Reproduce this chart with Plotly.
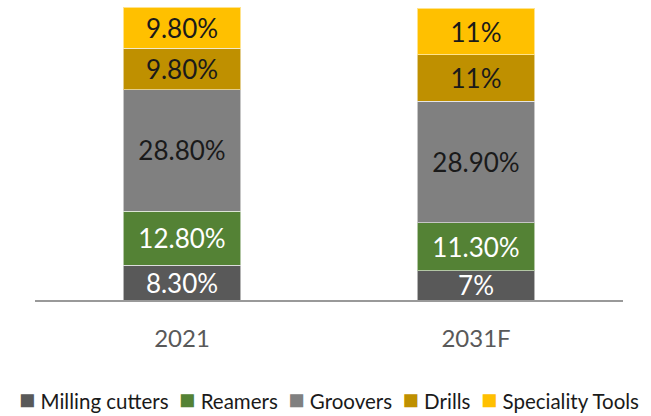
import plotly.graph_objects as go

categories = ["2021", "2031F"]
series_names = ["Milling cutters", "Reamers", "Groovers", "Drills", "Speciality Tools"]
milling = [8.3, 7.0]
reamers = [12.8, 11.3]
groovers = [28.8, 28.9]
drills = [9.8, 11.0]
speciality = [9.8, 11.0]
series_values = [milling, reamers, groovers, drills, speciality]
colors = ["#595959", "#548235", "#808080", "#BF9000", "#FFC000"]
label_colors = ["#FFFFFF", "#FFFFFF", "#1a1a1a", "#1a1a1a", "#1a1a1a"]

FONT = "Lato"


def fmt(v):
    return f"{int(v)}%" if float(v).is_integer() else f"{v:.2f}%"


fig = go.Figure()
for name, vals, col, lc in zip(series_names, series_values, colors, label_colors):
    fig.add_trace(go.Bar(
        x=categories, y=vals, name=name,
        marker=dict(color=col, line=dict(color="rgba(255,255,255,0.55)", width=1)),
        text=[fmt(v) for v in vals],
        textposition="inside", insidetextanchor="middle", textangle=0,
        textfont=dict(family=FONT, size=26, color=lc),
        showlegend=False,
    ))

legend_text = "&nbsp;&nbsp;".join(
    f"<span style='color:{c};font-size:27px'>■</span> {n}" for n, c in zip(series_names, colors)
)

fig.update_layout(
    width=651, height=416,
    barmode="stack", bargap=0.6,
    plot_bgcolor="white", paper_bgcolor="white",
    margin=dict(l=35, r=28, t=5, b=116),
    uniformtext=dict(minsize=26, mode="show"),
    xaxis=dict(
        showline=True, linecolor="#999999", linewidth=1.5,
        showgrid=False, ticks="", ticklabelstandoff=16,
        tickfont=dict(family=FONT, size=24, color="#595959"),
    ),
    yaxis=dict(range=[0, 70], visible=False, showgrid=False),
    annotations=[dict(
        text=legend_text, x=0.5, y=-0.335, xref="paper", yref="paper",
        xanchor="center", yanchor="middle", showarrow=False,
        font=dict(family=FONT, size=20.5, color="#1a1a1a"),
    )],
)

fig.write_html("out.html", config={"displayModeBar": False},
               post_script="document.body.style.margin='0';")
